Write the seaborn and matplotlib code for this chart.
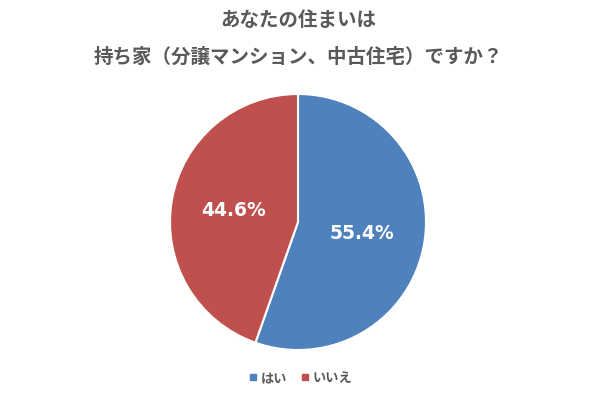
import matplotlib
matplotlib.use("Agg")
import matplotlib.pyplot as plt
from matplotlib.lines import Line2D
import seaborn as sns

# データ
labels = ["はい", "いいえ"]
values = [55.4, 44.6]
colors = ["#4F81BD", "#C0504D"]
title_lines = ["あなたの住まいは", "持ち家（分譲マンション、中古住宅）ですか？"]

sns.set_theme(style="white")
plt.rcParams['font.family'] = ['Noto Sans CJK JP', 'DejaVu Sans']

fig = plt.figure(figsize=(5.96, 3.99), dpi=100)
fig.patch.set_facecolor("white")

cx, cy, r = 298, 222, 128
W, H = 596, 399
ax = fig.add_axes([(cx - r) / W, (H - cy - r) / H, 2 * r / W, 2 * r / H])

wedges, texts, autotexts = ax.pie(
    values, colors=colors, startangle=90, counterclock=False,
    autopct=lambda p: f"{p:.1f}%", pctdistance=0.51,
    wedgeprops=dict(edgecolor="white", linewidth=1.5),
    textprops=dict(color="white", fontsize=13.5, fontweight="bold",
                   family="DejaVu Sans"),
)
ax.set_xlim(-1, 1)
ax.set_ylim(-1, 1)
ax.set_aspect("equal")

# タイトル
fig.text(0.5, 1 - 20 / H, title_lines[0], ha="center", va="center",
         fontsize=14, fontweight="bold", color="#595959")
fig.text(0.5, 1 - 57 / H, title_lines[1], ha="center", va="center",
         fontsize=14, fontweight="bold", color="#595959")

# 凡例
handles = [Line2D([0], [0], marker="s", linestyle="", markersize=5,
                  markerfacecolor=c, markeredgecolor=c) for c in colors]
fig.legend(handles, labels, loc="center", bbox_to_anchor=(0.505, 1 - 378 / H),
           ncol=2, frameon=False, handlelength=0.6,
           handletextpad=0.3, columnspacing=1.0, labelcolor="#595959",
           prop=dict(weight="bold", size=9.5))

fig.savefig("out.png", dpi=100, facecolor="white")
